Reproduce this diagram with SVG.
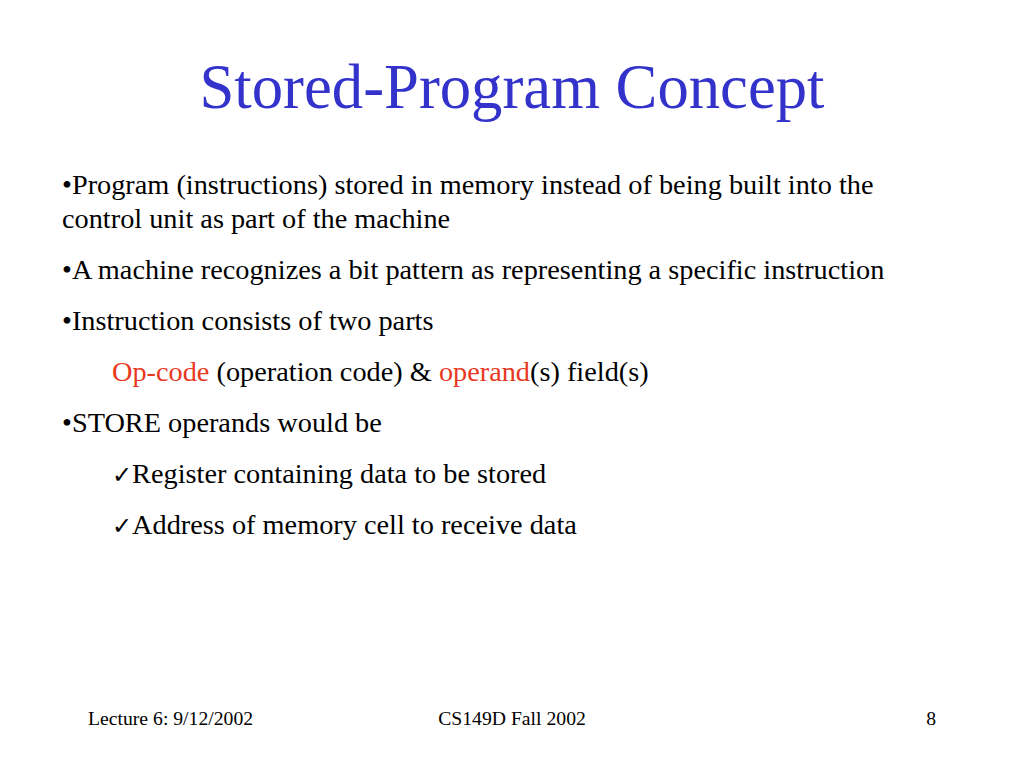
<svg xmlns="http://www.w3.org/2000/svg" width="1024" height="768" viewBox="0 0 1024 768">
<style>
.t{font-family:"Liberation Serif",serif;font-size:28.3px;fill:#000}
.r{fill:#E8381E}
.c{font-family:"DejaVu Sans",sans-serif;font-size:24px;font-weight:bold}
.f{font-family:"Liberation Serif",serif;font-size:19.7px;fill:#000}
</style>
<rect width="1024" height="768" fill="#fff"/>
<text x="512" y="108" text-anchor="middle" style="font-family:'Liberation Serif',serif;font-size:62.7px;fill:#3333CC">Stored-Program Concept</text>
<text class="t" x="62" y="194">•Program (instructions) stored in memory instead of being built into the</text>
<text class="t" x="62" y="228">control unit as part of the machine</text>
<text class="t" x="62" y="279">•A machine recognizes a bit pattern as representing a specific instruction</text>
<text class="t" x="62" y="330">•Instruction consists of two parts</text>
<text class="t" x="112" y="381"><tspan class="r">Op-code</tspan> (operation code) &amp; <tspan class="r">operand</tspan>(s) field(s)</text>
<text class="t" x="62" y="432">•STORE operands would be</text>
<text class="t" x="112" y="483"><tspan class="c">✓</tspan>Register containing data to be stored</text>
<text class="t" x="112" y="534"><tspan class="c">✓</tspan>Address of memory cell to receive data</text>
<text class="f" x="88" y="725">Lecture 6: 9/12/2002</text>
<text class="f" x="512" y="725" text-anchor="middle">CS149D Fall 2002</text>
<text class="f" x="936" y="725" text-anchor="end">8</text>
</svg>
